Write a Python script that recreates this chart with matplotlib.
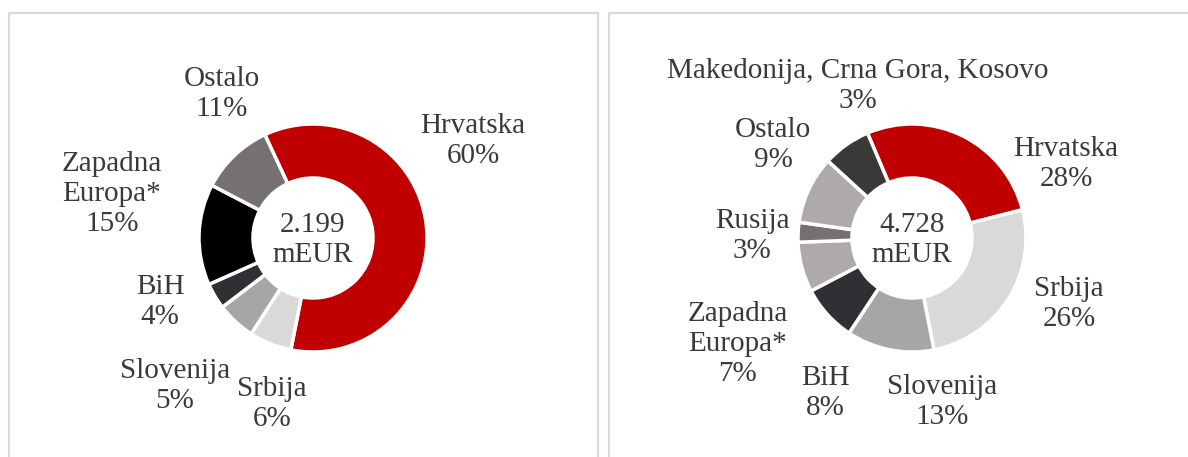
import matplotlib
matplotlib.use("Agg")
import matplotlib.pyplot as plt
from matplotlib.patches import Rectangle

# ---------------- data ----------------
left_categories = ["Hrvatska", "Srbija", "Slovenija", "BiH", "Zapadna\nEuropa*", "Ostalo"]
left_values = [60, 6, 5.5, 3.7, 14.3, 10.4]          # wedge sizes (%)
left_pct_labels = ["60%", "6%", "5%", "4%", "15%", "11%"]
left_total = "2.199\nmEUR"

right_categories = ["Hrvatska", "Srbija", "Slovenija", "BiH", "Zapadna\nEuropa*",
                    "Rusija", "Ostalo", "Makedonija, Crna Gora, Kosovo"]
right_values = [27.4, 25.9, 12.4, 8.0, 7.1, 2.8, 9.6, 6.8]   # wedge sizes (%)
right_pct_labels = ["28%", "26%", "13%", "8%", "7%", "3%", "9%", "3%"]
right_total = "4.728\nmEUR"

# ---------------- style ----------------
left_colors = ["#c00000", "#d9d9d9", "#a6a6a6", "#2f3033", "#000000", "#767171"]
right_colors = ["#c00000", "#d9d9d9", "#a6a6a6", "#2f3033", "#aeaaaa",
                "#767171", "#aeaaaa", "#3b3838"]

W, H = 1188, 457
fig = plt.figure(figsize=(W / 100, H / 100), dpi=100)
ax = fig.add_axes([0, 0, 1, 1])
ax.set_xlim(0, W)
ax.set_ylim(0, H)
ax.set_aspect("equal")
ax.axis("off")

FONT = "Liberation Serif"
TXT = "#3a3a3a"
FS = 21

def Y(ypx):
    return H - ypx

# panel borders
for x0, x1 in [(9, 598), (609, 1200)]:
    ax.add_patch(Rectangle((x0, -20), x1 - x0, Y(13) + 20, fill=False,
                           edgecolor="#d9d9d9", linewidth=1.5))

R_OUT = 114
RING = 54

def donut(cx, cy, values, colors, start):
    ax.pie(values, colors=colors, center=(cx, Y(cy)), radius=R_OUT,
           startangle=start, counterclock=False, frame=True,
           wedgeprops=dict(width=RING, edgecolor="white", linewidth=2.5))

donut(313, 238, left_values, left_colors, 115)
donut(912, 238, right_values, right_colors, 113)

ax.set_xlim(0, W)
ax.set_ylim(0, H)
ax.axis("off")

def label(x, y, text):
    ax.text(x, Y(y), text, ha="center", va="center", fontsize=FS,
            family=FONT, color=TXT, linespacing=1.22)

# label positions (pixel centres) in the same order as categories
left_pos = [(473, 141), (272, 404), (175, 386), (160, 302), (112, 194), (222, 94)]
right_pos = [(1066, 164), (1069, 304), (942, 402), (825, 393), (738, 344),
             (752, 236), (773, 145), (858, 86)]

for (x, y), c, p in zip(left_pos, left_categories, left_pct_labels):
    label(x, y, f"{c}\n{p}")
for (x, y), c, p in zip(right_pos, right_categories, right_pct_labels):
    label(x, y, f"{c}\n{p}")

label(313, 240, left_total)
label(912, 240, right_total)

fig.savefig("out.png", dpi=100)
